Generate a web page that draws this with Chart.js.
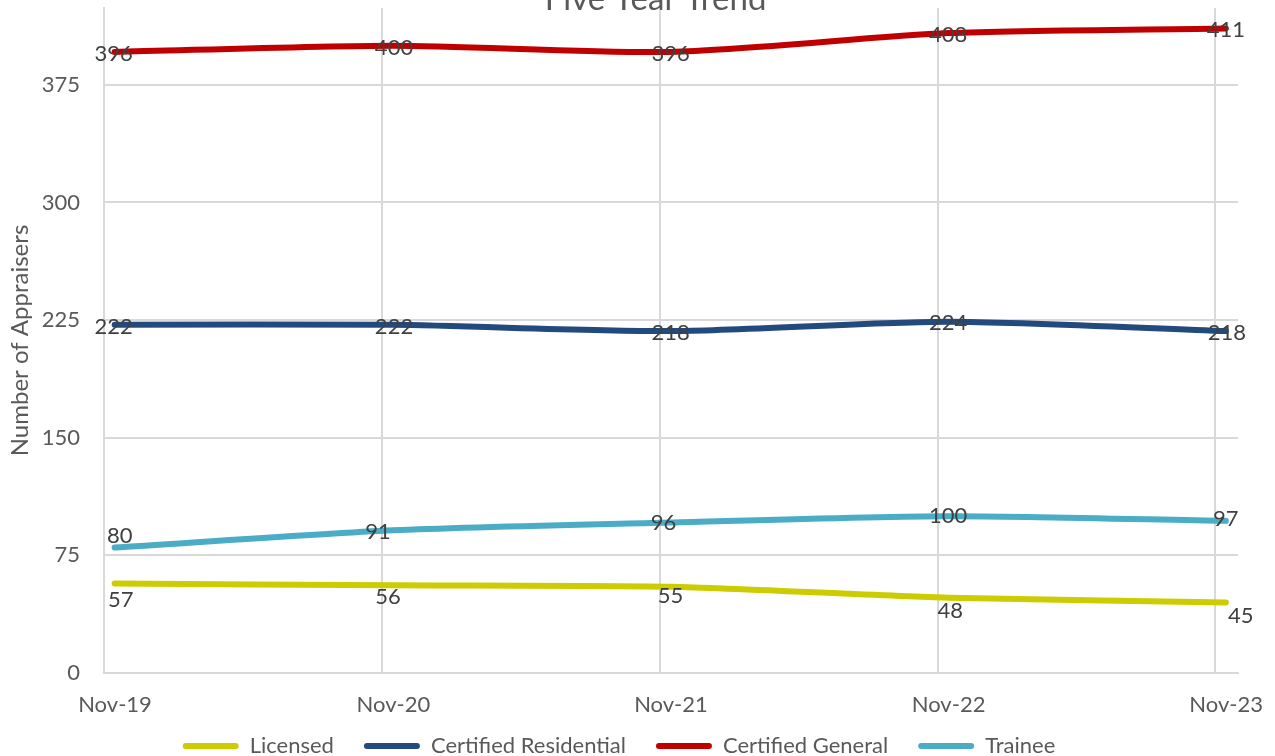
<!DOCTYPE html>
<html>
<head>
<meta charset="utf-8">
<script src="https://cdn.jsdelivr.net/npm/chart.js@4.4.1/dist/chart.umd.min.js"></script>
<style>
  html, body { margin: 0; padding: 0; background: #ffffff; overflow: hidden; }
  #wrap { position: absolute; left: 0; top: -20px; width: 1275px; height: 787px; }
</style>
</head>
<body>
<div id="wrap"><canvas id="c"></canvas></div>
<script>
// ---- data ----
const categories = ['2019-11-15', '2020-11-15', '2021-11-15', '2022-11-15', '2023-11-15'];
const xTickDates = ['2019-11-01', '2020-11-01', '2021-11-01', '2022-11-01', '2023-11-01'];
const xTickLabels = ['Nov-19', 'Nov-20', 'Nov-21', 'Nov-22', 'Nov-23'];
const xRange = ['2019-11-01', '2023-12-01'];
const yTicks = [0, 75, 150, 225, 300, 375];
const yMax = 424;

const seriesNames = ['Licensed', 'Certified Residential', 'Certified General', 'Trainee'];
const licensed = [57, 56, 55, 48, 45];
const certifiedResidential = [222, 222, 218, 224, 218];
const certifiedGeneral = [396, 400, 396, 408, 411];
const trainee = [80, 91, 96, 100, 97];

const chartTitle = 'Five Year Trend';
const yAxisTitle = 'Number of Appraisers';

// ---- styles ----
const colors = ['#CCCC00', '#234A7C', '#C00000', '#4BACC6'];
const labelOffsets = [
  [[6, 16], [-5, 12], [0, 9], [2, 13], [15, 13]],
  [[-1, 2], [1, 2], [0, 2], [0, 1], [1, 2]],
  [[-1, 2], [1, 2], [0, 2], [0, 2], [0, 2]],
  [[5, -12], [-15, 2], [-7, 0], [0, 0], [0, -2]]
];
const FONT = 'Lato';
const TXT = '#595959';

const toPts = vals => vals.map((v, i) => ({ x: Date.parse(categories[i]), y: v }));
const allSeries = [licensed, certifiedResidential, certifiedGeneral, trainee];

const datasets = allSeries.map((vals, k) => ({
  label: seriesNames[k],
  data: toPts(vals),
  borderColor: colors[k],
  backgroundColor: colors[k],
  borderWidth: 6,
  borderCapStyle: 'round',
  borderJoinStyle: 'round',
  pointRadius: 0,
  pointHoverRadius: 0,
  tension: 0.25,
  labelOffsets: labelOffsets[k]
}));

function shiftTitle(chart) {
  // Excel centres the title slightly right of the canvas centre
  if (chart.titleBlock) { chart.titleBlock.left = 36; chart.titleBlock.right = 1275; }
}

const dataLabelPlugin = {
  id: 'dataLabels',
  afterLayout: shiftTitle,
  beforeDraw: shiftTitle,
  afterDatasetsDraw(chart) {
    const ctx = chart.ctx;
    ctx.save();
    ctx.font = '22px ' + FONT;
    ctx.fillStyle = '#404040';
    ctx.textAlign = 'center';
    ctx.textBaseline = 'middle';
    chart.data.datasets.forEach((ds, di) => {
      const meta = chart.getDatasetMeta(di);
      meta.data.forEach((pt, i) => {
        const off = ds.labelOffsets[i];
        ctx.fillText(String(ds.data[i].y), pt.x + off[0], pt.y + off[1]);
      });
    });
    ctx.restore();
  }
};

new Chart(document.getElementById('c'), {
  type: 'line',
  data: { datasets },
  options: {
    responsive: true,
    maintainAspectRatio: false,
    animation: false,
    events: [],
    layout: { padding: { left: 0, right: 37, top: 0, bottom: 0 } },
    plugins: {
      title: {
        display: true,
        text: chartTitle,
        color: TXT,
        font: { family: FONT, size: 33, weight: 'normal' },
        padding: { top: 0, bottom: -11.6 }
      },
      legend: {
        position: 'bottom',
        labels: {
          color: TXT,
          font: { family: FONT, size: 22 },
          boxWidth: 56,
          boxHeight: 6,
          padding: 30,
          useBorderRadius: true,
          borderRadius: 3,
          generateLabels(chart) {
            return Chart.defaults.plugins.legend.labels.generateLabels(chart).map(l => ({
              ...l, lineWidth: 0, borderRadius: 3
            }));
          }
        }
      },
      tooltip: { enabled: false }
    },
    scales: {
      x: {
        type: 'linear',
        min: Date.parse(xRange[0]),
        max: Date.parse(xRange[1]),
        afterBuildTicks(scale) {
          scale.ticks = xTickDates.map(d => ({ value: Date.parse(d) }));
        },
        afterFit(scale) {
          scale.height = 32; scale.paddingLeft = 0; scale.paddingRight = 0;
          scale._computeLabelArea = () => undefined; // do not clip tick labels to the short axis box
        },
        ticks: {
          color: TXT,
          font: { family: FONT, size: 22 },
          padding: 19,
          labelOffset: 11,
          maxRotation: 0,
          autoSkip: false,
          callback: (v, i) => xTickLabels[i]
        },
        grid: { color: '#D9D9D9', lineWidth: 2, drawTicks: false },
        border: { color: '#D9D9D9', width: 2 }
      },
      y: {
        min: 0,
        max: yMax,
        afterBuildTicks(scale) {
          scale.ticks = yTicks.map(v => ({ value: v }));
        },
        afterFit(scale) { scale.width = 104; scale.paddingTop = 0; scale.paddingBottom = 0; },
        ticks: {
          color: TXT,
          font: { family: FONT, size: 22 },
          padding: 24,
          callback: v => String(v)
        },
        grid: { color: '#D9D9D9', lineWidth: 2, drawTicks: false },
        border: { color: '#D9D9D9', width: 2 },
        title: {
          display: true,
          text: yAxisTitle,
          color: TXT,
          font: { family: FONT, size: 24 },
          padding: { top: 6, bottom: 0 }
        }
      }
    }
  },
  plugins: [dataLabelPlugin]
});
</script>
</body>
</html>
